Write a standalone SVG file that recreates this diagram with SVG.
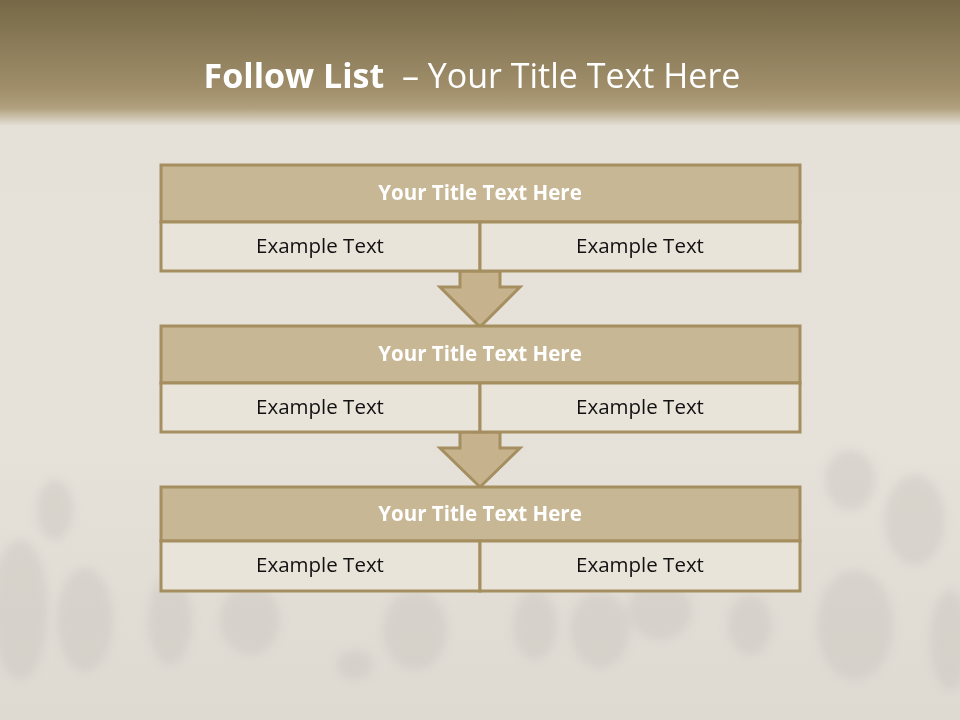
<svg xmlns="http://www.w3.org/2000/svg" width="960" height="720" viewBox="0 0 960 720">
<defs>
<linearGradient id="bg" x1="0" y1="0" x2="0" y2="1">
<stop offset="0" stop-color="#766846"/>
<stop offset="0.125" stop-color="#a18f6b"/>
<stop offset="0.15" stop-color="#b1a07d"/>
<stop offset="0.175" stop-color="#e5e1d9"/>
<stop offset="0.6" stop-color="#e6e2da"/>
<stop offset="1" stop-color="#dedad2"/>
</linearGradient>
<filter id="soft" x="-20%" y="-20%" width="140%" height="140%"><feGaussianBlur stdDeviation="4"/></filter>
<style>
.band{fill:#c7b794;stroke:#a58e5f;stroke-width:3}
.cell{fill:#e9e4da;stroke:#a58e5f;stroke-width:3}
.arrow{fill:#c6b38e;stroke:#a58e5f;stroke-width:3;stroke-linejoin:miter}
.ttl{font-family:"Open Sans","Liberation Sans",sans-serif;font-weight:bold;font-size:20.5px;fill:#ffffff;text-anchor:middle}
.ex{font-family:"Open Sans","Liberation Sans",sans-serif;font-size:20.5px;fill:#111111;text-anchor:middle}
.blob{fill:#c9c5be;opacity:0.45}
</style>
</defs>
<rect x="0" y="0" width="960" height="720" fill="url(#bg)"/>
<g id="texture" filter="url(#soft)">
<ellipse class="blob" cx="20" cy="610" rx="28" ry="70"/>
<ellipse class="blob" cx="85" cy="620" rx="28" ry="52"/>
<ellipse class="blob" cx="55" cy="510" rx="18" ry="30"/>
<ellipse class="blob" cx="170" cy="620" rx="22" ry="45"/>
<ellipse class="blob" cx="250" cy="620" rx="30" ry="35"/>
<ellipse class="blob" cx="415" cy="630" rx="32" ry="40"/>
<ellipse class="blob" cx="535" cy="625" rx="22" ry="35"/>
<ellipse class="blob" cx="600" cy="630" rx="30" ry="38"/>
<ellipse class="blob" cx="660" cy="610" rx="32" ry="30"/>
<ellipse class="blob" cx="750" cy="625" rx="22" ry="30"/>
<ellipse class="blob" cx="855" cy="625" rx="38" ry="55"/>
<ellipse class="blob" cx="915" cy="520" rx="30" ry="45"/>
<ellipse class="blob" cx="850" cy="480" rx="25" ry="30"/>
<ellipse class="blob" cx="355" cy="665" rx="18" ry="15"/>
<ellipse class="blob" cx="950" cy="640" rx="20" ry="50"/>
</g>
<g id="title">
<text x="472" y="88" font-family="'Open Sans','Liberation Sans',sans-serif" font-size="34" fill="#ffffff" text-anchor="middle" xml:space="preserve"><tspan font-weight="bold">Follow List</tspan>  – Your Title Text Here</text>
</g>
<g id="connectors">
<polygon class="arrow" points="460,271 500,271 500,287 520,287 480,327 440,287 460,287"/>
<polygon class="arrow" points="460,432 500,432 500,448 520,448 480,487 440,448 460,448"/>
</g>
<g id="node1">
<rect class="band" x="161" y="165" width="639" height="57"/>
<rect class="cell" x="161" y="222" width="319" height="49"/>
<rect class="cell" x="480" y="222" width="320" height="49"/>
<text class="ttl" x="480" y="200">Your Title Text Here</text>
<text class="ex" x="320" y="253">Example Text</text>
<text class="ex" x="640" y="253">Example Text</text>
</g>
<g id="node2">
<rect class="band" x="161" y="326" width="639" height="57"/>
<rect class="cell" x="161" y="383" width="319" height="49"/>
<rect class="cell" x="480" y="383" width="320" height="49"/>
<text class="ttl" x="480" y="361">Your Title Text Here</text>
<text class="ex" x="320" y="414">Example Text</text>
<text class="ex" x="640" y="414">Example Text</text>
</g>
<g id="node3">
<rect class="band" x="161" y="487" width="639" height="54"/>
<rect class="cell" x="161" y="541" width="319" height="50"/>
<rect class="cell" x="480" y="541" width="320" height="50"/>
<text class="ttl" x="480" y="521">Your Title Text Here</text>
<text class="ex" x="320" y="572">Example Text</text>
<text class="ex" x="640" y="572">Example Text</text>
</g>
</svg>
